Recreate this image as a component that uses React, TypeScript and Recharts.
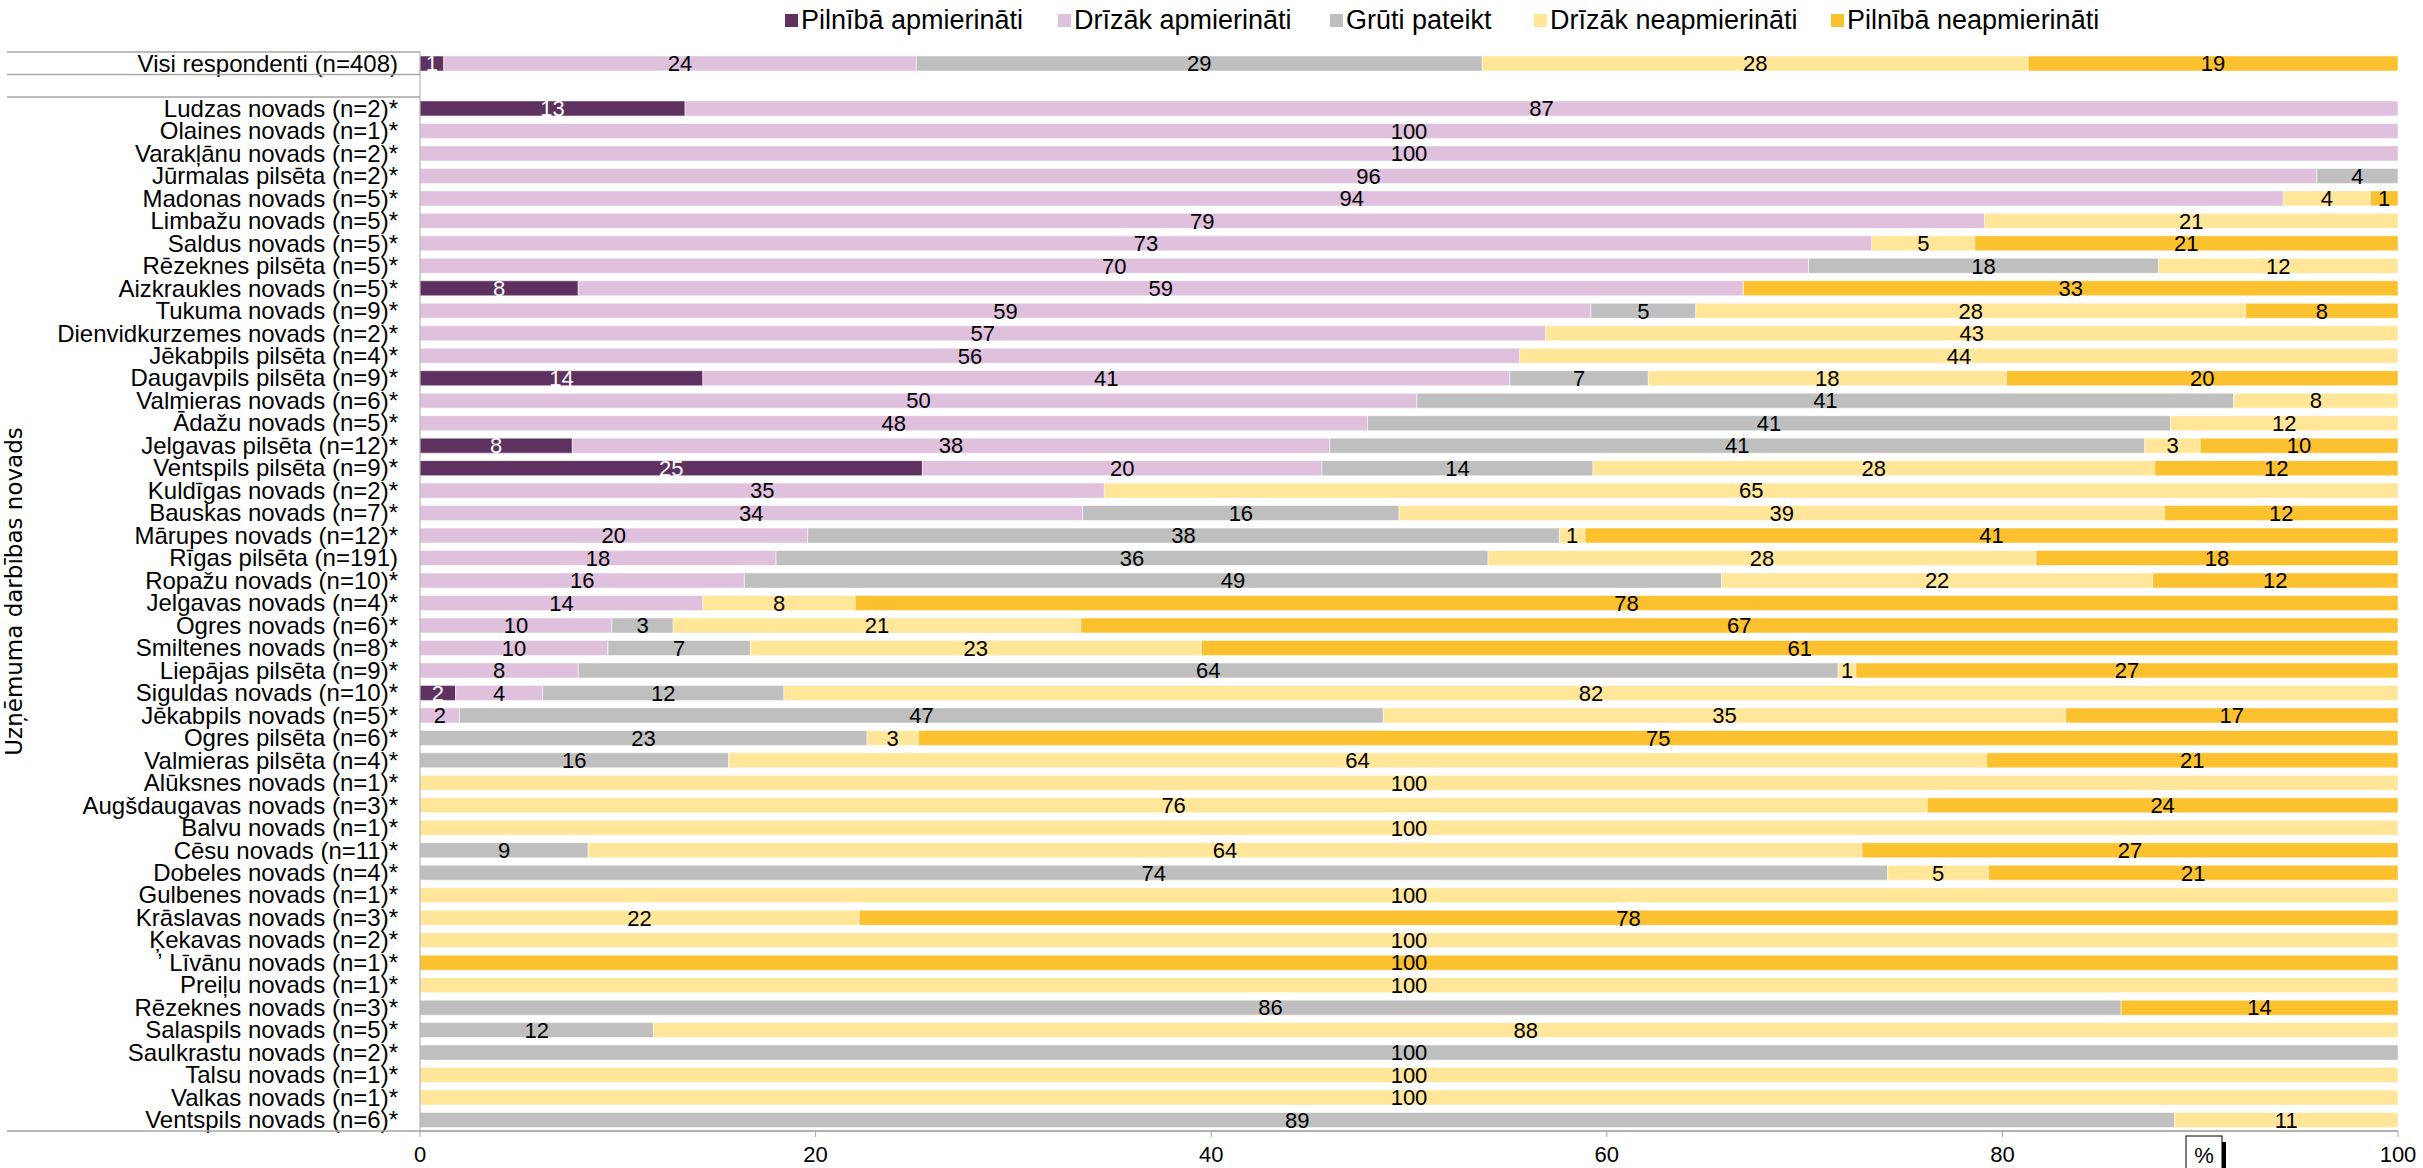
import { BarChart, Bar, XAxis, YAxis, LabelList } from "recharts";

const regions = [
  "Visi respondenti (n=408)",
  "",
  "Ludzas novads (n=2)*",
  "Olaines novads (n=1)*",
  "Varakļānu novads (n=2)*",
  "Jūrmalas pilsēta (n=2)*",
  "Madonas novads (n=5)*",
  "Limbažu novads (n=5)*",
  "Saldus novads (n=5)*",
  "Rēzeknes pilsēta (n=5)*",
  "Aizkraukles novads (n=5)*",
  "Tukuma novads (n=9)*",
  "Dienvidkurzemes novads (n=2)*",
  "Jēkabpils pilsēta (n=4)*",
  "Daugavpils pilsēta (n=9)*",
  "Valmieras novads (n=6)*",
  "Ādažu novads (n=5)*",
  "Jelgavas pilsēta (n=12)*",
  "Ventspils pilsēta (n=9)*",
  "Kuldīgas novads (n=2)*",
  "Bauskas novads (n=7)*",
  "Mārupes novads (n=12)*",
  "Rīgas pilsēta (n=191)",
  "Ropažu novads (n=10)*",
  "Jelgavas novads (n=4)*",
  "Ogres novads (n=6)*",
  "Smiltenes novads (n=8)*",
  "Liepājas pilsēta (n=9)*",
  "Siguldas novads (n=10)*",
  "Jēkabpils novads (n=5)*",
  "Ogres pilsēta (n=6)*",
  "Valmieras pilsēta (n=4)*",
  "Alūksnes novads (n=1)*",
  "Augšdaugavas novads (n=3)*",
  "Balvu novads (n=1)*",
  "Cēsu novads (n=11)*",
  "Dobeles novads (n=4)*",
  "Gulbenes novads (n=1)*",
  "Krāslavas novads (n=3)*",
  "Ķekavas novads (n=2)*",
  "ʼ Līvānu novads (n=1)*",
  "Preiļu novads (n=1)*",
  "Rēzeknes novads (n=3)*",
  "Salaspils novads (n=5)*",
  "Saulkrastu novads (n=2)*",
  "Talsu novads (n=1)*",
  "Valkas novads (n=1)*",
  "Ventspils novads (n=6)*",
];

// % per region, same order as regions
const fullySatisfied = [
  1.2, 0, 13.4, 0, 0, 0, 0, 0, 0, 0, 8.0, 0, 0, 0, 14.3, 0, 0, 7.7, 25.4, 0, 0, 0, 0, 0,
  0, 0, 0, 0, 1.8, 0, 0, 0, 0, 0, 0, 0, 0, 0, 0, 0, 0, 0, 0, 0, 0, 0, 0, 0,
];
const ratherSatisfied = [
  23.9, 0, 86.6, 100, 100, 95.9, 94.2, 79.1, 73.4, 70.2, 58.9, 59.2, 56.9, 55.6, 40.8, 50.4, 47.9, 38.3, 20.2, 34.6, 33.5, 19.6, 18.0, 16.4,
  14.3, 9.7, 9.5, 8.0, 4.4, 2.0, 0, 0, 0, 0, 0, 0, 0, 0, 0, 0, 0, 0, 0, 0, 0, 0, 0, 0,
];
const hardToSay = [
  28.6, 0, 0, 0, 0, 4.1, 0, 0, 0, 17.7, 0, 5.3, 0, 0, 7.0, 41.3, 40.6, 41.2, 13.7, 0, 16.0, 38.0, 36.0, 49.4,
  0, 3.1, 7.2, 63.7, 12.2, 46.7, 22.6, 15.6, 0, 0, 0, 8.5, 74.2, 0, 0, 0, 0, 0, 86.0, 11.8, 100, 0, 0, 88.7,
];
const ratherDissatisfied = [
  27.6, 0, 0, 0, 0, 0, 4.4, 20.9, 5.2, 12.1, 0, 27.8, 43.1, 44.4, 18.1, 8.3, 11.5, 2.8, 28.4, 65.4, 38.7, 1.3, 27.7, 21.8,
  7.7, 20.6, 22.8, 0.9, 81.6, 34.5, 2.6, 63.6, 100, 76.2, 100, 64.4, 5.1, 100, 22.2, 100, 0, 100, 0, 88.2, 0, 100, 100, 11.3,
];
const fullyDissatisfied = [
  18.7, 0, 0, 0, 0, 0, 1.4, 0, 21.4, 0, 33.1, 7.7, 0, 0, 19.8, 0, 0, 10.0, 12.3, 0, 11.8, 41.1, 18.3, 12.4,
  78.0, 66.6, 60.5, 27.4, 0, 16.8, 74.8, 20.8, 0, 23.8, 0, 27.1, 20.7, 0, 77.8, 0, 100, 0, 14.0, 0, 0, 0, 0, 0,
];

const seriesNames = [
  "Pilnībā apmierināti",
  "Drīzāk apmierināti",
  "Grūti pateikt",
  "Drīzāk neapmierināti",
  "Pilnībā neapmierināti",
];
const seriesKeys = ["s1", "s2", "s3", "s4", "s5"];
const colors = ["#5E3160", "#DFC1DE", "#BFBFBF", "#FFE699", "#FCC12E"];
const labelColors = ["#FFFFFF", "#000000", "#000000", "#000000", "#000000"];
const legendX = [785, 1058, 1330, 1534, 1831];
const xTicks = [0, 20, 40, 60, 80, 100];

const seriesValues = [fullySatisfied, ratherSatisfied, hardToSay, ratherDissatisfied, fullyDissatisfied];

const data = regions.map((name, i) => {
  const row: Record<string, string | number | null> = { name };
  seriesKeys.forEach((k, s) => {
    const v = seriesValues[s][i];
    row[k] = v > 0 ? v : null;
  });
  return row;
});

const FONT = "'Liberation Sans', Arial, sans-serif";
const W = 2423;
const H = 1168;
const TOP = 52;
const BOTTOM_AXIS = 37;
const Y_W = 420;
const RIGHT = 25;

export default function App() {
  const plotBottom = H - BOTTOM_AXIS;
  const band = (plotBottom - TOP) / regions.length;

  return (
    <div style={{ position: "absolute", left: 0, top: 0, width: W, height: H, background: "#fff", fontFamily: FONT }}>
      {seriesNames.map((n, i) => (
        <div
          key={n}
          style={{
            position: "absolute",
            left: legendX[i],
            top: 5,
            display: "flex",
            alignItems: "center",
            fontSize: 27,
            color: "#000",
            whiteSpace: "nowrap",
          }}
        >
          <span style={{ width: 13, height: 13, background: colors[i], marginRight: 3, display: "inline-block" }} />
          <span>{n}</span>
        </div>
      ))}

      <BarChart
        width={W}
        height={H}
        data={data}
        layout="vertical"
        margin={{ top: TOP, right: RIGHT, bottom: 0, left: 0 }}
        barSize={15}
      >
        <XAxis
          type="number"
          domain={[0, 100]}
          ticks={xTicks}
          height={BOTTOM_AXIS}
          tickSize={6}
          tickMargin={9}
          stroke="#A6A6A6"
          tick={{ fill: "#000", fontSize: 22, fontFamily: FONT }}
        />
        <YAxis
          type="category"
          dataKey="name"
          width={Y_W}
          interval={0}
          tickSize={0}
          tickMargin={22}
          stroke="#A6A6A6"
          tick={{ fill: "#000", fontSize: 24, fontFamily: FONT }}
          label={{
            value: "Uzņēmuma darbības novads",
            angle: -90,
            position: "insideLeft",
            offset: 14,
            style: { textAnchor: "middle", fontFamily: "'DejaVu Sans', sans-serif", fontSize: 23, fill: "#000" },
          }}
        />
        {seriesKeys.map((k, s) => (
          <Bar
            key={k}
            dataKey={k}
            name={seriesNames[s]}
            stackId="a"
            fill={colors[s]}
            stroke="rgba(255,255,255,0.5)"
            strokeWidth={1}
            isAnimationActive={false}
          >
            <LabelList
              dataKey={k}
              position="center"
              formatter={(v: any) => (v ? String(Math.round(Number(v))) : "")}
              style={{ fill: labelColors[s], fontSize: 22, fontFamily: FONT }}
            />
          </Bar>
        ))}
      </BarChart>

      <svg width={W} height={H} style={{ position: "absolute", left: 0, top: 0, pointerEvents: "none" }}>
        {[0, 1, 2].map((i) => (
          <line key={i} x1={7} x2={Y_W} y1={TOP + band * i} y2={TOP + band * i} stroke="#A6A6A6" strokeWidth={1.5} />
        ))}
        <line x1={7} x2={W - RIGHT} y1={plotBottom} y2={plotBottom} stroke="#A6A6A6" strokeWidth={1.5} />
        <rect x={2186} y={1136} width={36} height={40} fill="#fff" stroke="#000" strokeWidth={1} />
        <rect x={2222} y={1142} width={4} height={30} fill="#000" />
        <text x={2204} y={1163} textAnchor="middle" fontSize={22} fontFamily={FONT} fill="#000">
          %
        </text>
      </svg>
    </div>
  );
}
